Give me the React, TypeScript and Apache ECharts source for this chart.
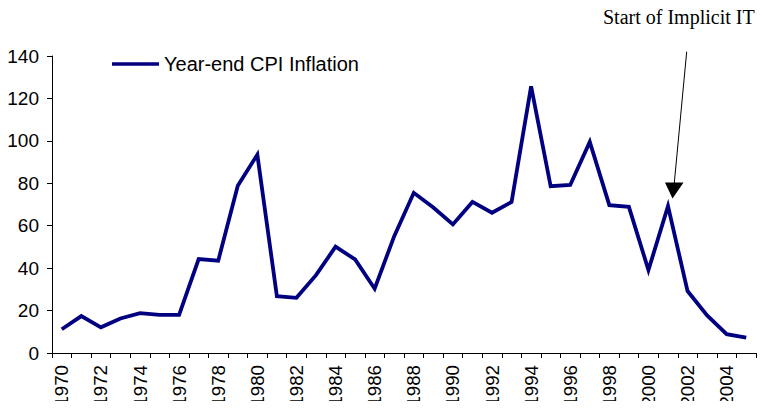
import React, { useEffect, useRef } from "react";
import * as echarts from "echarts";

const years: string[] = [
  "1970", "1971", "1972", "1973", "1974", "1975", "1976", "1977", "1978", "1979",
  "1980", "1981", "1982", "1983", "1984", "1985", "1986", "1987", "1988", "1989",
  "1990", "1991", "1992", "1993", "1994", "1995", "1996", "1997", "1998", "1999",
  "2000", "2001", "2002", "2003", "2004", "2005",
];

const cpiInflation: number[] = [
  11.2, 17.4, 12.1, 16.3, 18.8, 18.0, 18.0, 44.3, 43.5, 78.8,
  93.5, 26.8, 26.0, 36.7, 50.1, 44.1, 30.3, 55.1, 75.5, 68.6,
  60.6, 71.2, 66.1, 71.2, 125.7, 78.6, 79.2, 99.5, 69.7, 68.9,
  39.1, 69.2, 29.2, 17.7, 8.9, 7.2,
];

const seriesName = "Year-end CPI Inflation";
const annotationText = "Start of Implicit IT";

export default function App() {
  const ref = useRef<HTMLDivElement>(null);
  useEffect(() => {
    if (!ref.current) return;
    const chart = echarts.init(ref.current, null, { renderer: "svg" });
    const sans = "'Liberation Sans', Arial, sans-serif";
    chart.setOption({
      animation: false,
      backgroundColor: "#fff",
      grid: { left: 52, right: 9, top: 56, bottom: 56, containLabel: false, outerBoundsMode: "none" },
      legend: {
        data: [seriesName],
        left: 107,
        top: 49,
        icon: "rect",
        itemWidth: 47,
        itemHeight: 3.5,
        itemGap: 5,
        textStyle: { fontFamily: sans, fontSize: 20, color: "#000" },
      },
      xAxis: {
        type: "category",
        data: years,
        boundaryGap: true,
        axisLine: { lineStyle: { color: "#000", width: 1 } },
        axisTick: { show: true, interval: 0, length: 5, lineStyle: { color: "#000" } },
        axisLabel: {
          interval: 1,
          rotate: 90,
          margin: 12,
          fontFamily: sans,
          fontSize: 18.7,
          color: "#000",
        },
        splitLine: { show: false },
      },
      yAxis: {
        type: "value",
        min: 0,
        max: 140,
        interval: 20,
        axisLine: { show: true, lineStyle: { color: "#000", width: 1 } },
        axisTick: { show: true, length: 5, lineStyle: { color: "#000" } },
        axisLabel: { margin: 13, fontFamily: sans, fontSize: 19, color: "#000" },
        splitLine: { show: false },
      },
      series: [
        {
          name: seriesName,
          type: "line",
          data: cpiInflation,
          symbol: "none",
          lineStyle: { color: "#000080", width: 3.8, join: "miter" },
          itemStyle: { color: "#000080" },
        },
      ],
      graphic: [
        {
          type: "text",
          x: 603,
          y: 7,
          style: {
            text: annotationText,
            fontSize: 20,
            fontFamily: "'Liberation Serif', 'Times New Roman', serif",
            fill: "#000",
          },
        },
        {
          type: "line",
          shape: { x1: 686.7, y1: 51.7, x2: 674.2, y2: 184 },
          style: { stroke: "#000", lineWidth: 1 },
        },
        {
          type: "polygon",
          shape: { points: [[665, 182.5], [683.5, 182.5], [672.5, 198.5]] },
          style: { fill: "#000" },
        },
      ],
    });
    return () => chart.dispose();
  }, []);
  return <div ref={ref} style={{ width: 765, height: 409, margin: -8 }} />;
}
